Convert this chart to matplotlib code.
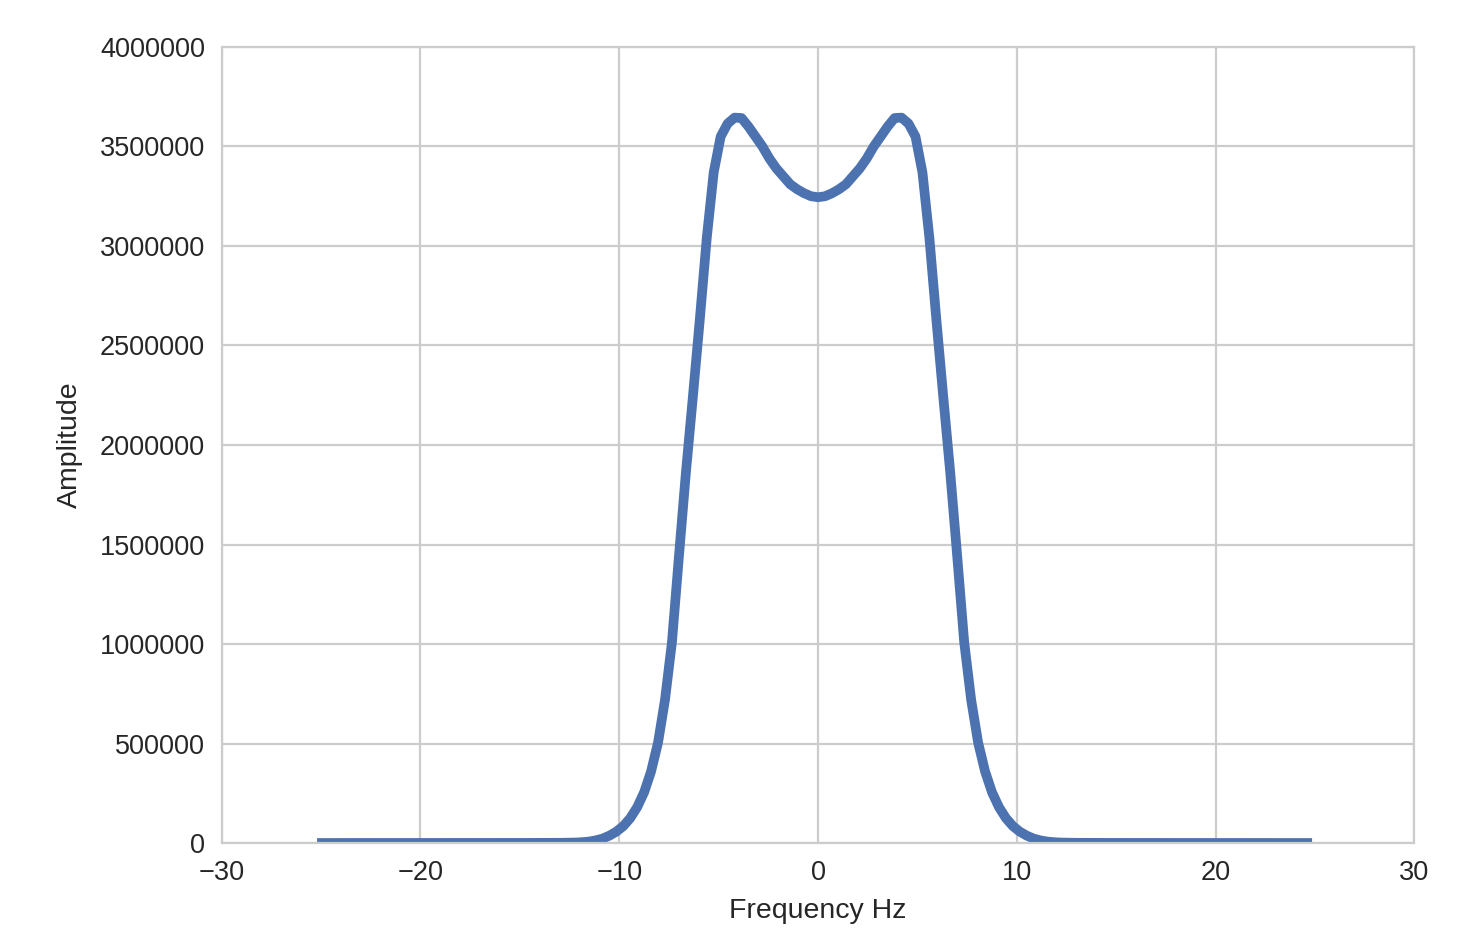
import numpy as np
import matplotlib
matplotlib.use("Agg")
import matplotlib.pyplot as plt
from matplotlib.ticker import ScalarFormatter

# Frequency grid (Hz): 144 samples, spacing 0.35 Hz, from -25.2 to 24.85
n_samples = 144
step_hz = 0.35
freq = np.arange(n_samples) * step_hz - 25.2

# Amplitude for negative frequencies (-25.2 ... -0.35)
amp_neg = [100, 100, 110, 110, 120, 120, 130, 130, 140, 150, 150, 160, 170, 180,
           190, 200, 210, 220, 230, 250, 260, 280, 300, 320, 340, 370, 400, 430,
           470, 510, 560, 620, 680, 760, 880, 1100, 1500, 2300, 4000, 7000, 13000,
           22000, 37000, 57000, 85000, 125000, 180000, 255000, 360000, 505000,
           720000, 1010000, 1440000, 1860000, 2240000, 2630000, 3040000, 3370000,
           3550000, 3615000, 3645000, 3643000, 3600000, 3550000, 3500000, 3440000,
           3390000, 3350000, 3310000, 3285000, 3265000, 3250000]
# Amplitude for non-negative frequencies (0 ... 24.85)
amp_pos = [3245000, 3250000, 3265000, 3285000, 3310000, 3350000, 3390000, 3440000,
           3500000, 3550000, 3600000, 3643000, 3645000, 3615000, 3550000, 3370000,
           3040000, 2630000, 2240000, 1860000, 1440000, 1010000, 720000, 505000,
           360000, 255000, 180000, 125000, 85000, 57000, 37000, 22000, 13000, 7000,
           4000, 2300, 1500, 1100, 880, 760, 680, 620, 560, 510, 470, 430, 400,
           370, 340, 320, 300, 280, 260, 250, 230, 220, 210, 200, 190, 180, 170,
           160, 150, 150, 140, 130, 130, 120, 120, 110, 110, 100]
amplitude = np.array(amp_neg + amp_pos, dtype=float)

x_ticks = [-30, -20, -10, 0, 10, 20, 30]
y_ticks = [0, 500000, 1000000, 1500000, 2000000, 2500000, 3000000, 3500000, 4000000]

plt.rcParams['font.family'] = ['Liberation Sans', 'DejaVu Sans']
text_col = '#262626'
grid_col = '#cccccc'

fig = plt.figure(figsize=(14.78, 9.34), dpi=100)
ax = fig.add_axes([0.150, 0.0974, 0.807, 0.8523])
ax.set_facecolor('white')

ax.plot(freq, amplitude, color='#4C72B0', lw=7.0, solid_capstyle='butt',
        solid_joinstyle='round', zorder=2)

ax.set_xlim(-30, 30)
ax.set_ylim(0, 4000000)
ax.set_xticks(x_ticks)
ax.set_yticks(y_ticks)
fmt = ScalarFormatter(useOffset=False)
fmt.set_scientific(False)
ax.yaxis.set_major_formatter(fmt)

ax.grid(True, color=grid_col, lw=1.6, zorder=1)
ax.set_axisbelow(True)
for s in ax.spines.values():
    s.set_color(grid_col)
    s.set_linewidth(1.6)
    s.set_zorder(2.5)

ax.tick_params(axis='both', length=0, labelsize=19.5, colors=text_col)
ax.tick_params(axis='y', pad=12)
ax.tick_params(axis='x', pad=12)

ax.set_xlabel('Frequency Hz', fontsize=20.5, color=text_col, labelpad=9)
ax.set_ylabel('Amplitude', fontsize=20.5, color=text_col, labelpad=12)

fig.savefig('out.png', dpi=100, facecolor='white')
